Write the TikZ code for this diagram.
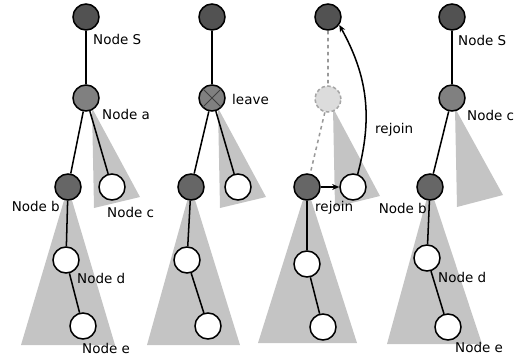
\documentclass[tikz,border=0pt]{standalone}
\usepackage{fontspec}
\setmainfont{DejaVu Sans}
\usetikzlibrary{arrows.meta,backgrounds}
\definecolor{rootgray}{HTML}{525252}
\definecolor{bgray}{HTML}{666666}
\definecolor{midgray}{HTML}{808080}
\definecolor{treegray}{HTML}{C4C4C4}
\definecolor{ghost}{HTML}{DCDCDC}

\tikzset{
 vert/.style={circle,draw=black,line width=1.3pt,minimum size=0.78cm,inner sep=0pt},
 topnode/.style={vert,fill=rootgray},
 midnode/.style={vert,fill=midgray},
 bnode/.style={vert,fill=bgray},
 leafnode/.style={vert,fill=white},
 gone/.style={vert,draw=gray!70,densely dashed,fill=ghost},
 subtree/.style={fill=treegray},
 link/.style={line width=1.3pt},
 tag/.style={font=\fontsize{11.5}{13}\selectfont,inner sep=0pt,anchor=west},
}

\begin{document}
\begin{tikzpicture}[x=0.03cm,y=-0.03cm,>={Stealth[length=6pt,width=5pt]}]
\useasboundingbox (0,0) rectangle (520,358);
% first: the tree as it is
\begin{scope}[shift={(86,0)}]
 \node[topnode] (S1) at (0,17) {};
 \node[midnode] (a1) at (0,98) {};
 \node[bnode] (b1) at (-18,187) {};
 \node[leafnode] (c1) at (26,187) {};
 \node[leafnode] (d1) at (-20,260) {};
 \node[leafnode] (e1) at (-3,326) {};
 \begin{scope}[on background layer]
  \fill[subtree] (b1.center) -- (-65,345) -- (29,345) -- cycle;
  \fill[subtree] (6,108) -- (8,208) -- (54,197) -- cycle;
 \end{scope}
 \draw[link] (S1) -- (a1) (a1) -- (b1) (a1) -- (c1) (b1) -- (d1) (d1) -- (e1);
 \node[tag] (lS1) at (7,39) {Node S};
 \node[tag] (la1) at (16,114) {Node a};
 \node[tag] (lc1) at (21,212) {Node c};
 \node[tag,anchor=east] (lb1) at (-26,206) {Node b};
 \node[tag] (ld1) at (-9,278) {Node d};
 \node[tag] (le1) at (-4,348) {Node e};
\end{scope}
% second: node a leaves
\begin{scope}[shift={(212,0)}]
 \node[topnode] (S2) at (0,17) {};
 \node[midnode] (a2) at (0,98) {};
 \node[bnode] (b2) at (-21,187) {};
 \node[leafnode] (c2) at (26,187) {};
 \node[leafnode] (d2) at (-25,260) {};
 \node[leafnode] (e2) at (-4,326) {};
 \begin{scope}[on background layer]
  \fill[subtree] (b2.center) -- (-65,345) -- (28,345) -- cycle;
  \fill[subtree] (6,108) -- (8,208) -- (54,197) -- cycle;
 \end{scope}
 \draw[link] (S2) -- (a2) (a2) -- (b2) (a2) -- (c2) (b2) -- (d2) (d2) -- (e2);
 \draw[line width=0.9pt,black!75] (a2.45) -- (a2.225) (a2.135) -- (a2.-45);
 \node[tag] (lv2) at (20,99) {leave};
\end{scope}
% third: children rejoin
\begin{scope}[shift={(328,0)}]
 \node[topnode] (S3) at (0,17) {};
 \node[gone] (a3) at (0,99) {};
 \node[bnode] (b3) at (-21,187) {};
 \node[leafnode] (c3) at (25,187) {};
 \node[leafnode] (d3) at (-21,264) {};
 \node[leafnode] (e3) at (-5,327) {};
 \begin{scope}[on background layer]
  \fill[subtree] (b3.center) -- (-70,343) -- (29,343) -- cycle;
  \fill[subtree] (5,108) -- (7,207) -- (52,196) -- cycle;
 \end{scope}
 \draw[link,gray!80,dashed] (S3) -- (a3) (a3) -- (b3);
 \draw[link] (b3) -- (d3) (d3) -- (e3);
 \draw[link,->] (b3) -- (c3);
 \draw[link,->] (c3.70) to[bend right=22] (S3.-35);
 \node[tag] (lr3) at (-13,208) {rejoin};
 \node[tag] (lq3) at (47,130) {rejoin};
\end{scope}
% fourth: node c takes the place of a
\begin{scope}[shift={(452,0)}]
 \node[topnode] (S4) at (0,17) {};
 \node[midnode] (c4) at (0,98) {};
 \node[bnode] (b4) at (-22,187) {};
 \node[leafnode] (d4) at (-25,258) {};
 \node[leafnode] (e4) at (-4,327) {};
 \begin{scope}[on background layer]
  \fill[subtree] (b4.center) -- (-65,344) -- (30,344) -- cycle;
  \fill[subtree] (3,108) -- (5,207) -- (51,195) -- cycle;
 \end{scope}
 \draw[link] (S4) -- (c4) (c4) -- (b4) (b4) -- (d4) (d4) -- (e4);
 \node[tag] (lS4) at (6,40) {Node S};
 \node[tag] (lc4) at (15,115) {Node c};
 \node[tag,anchor=east] (lb4) at (-25,208) {Node b};
 \node[tag] (ld4) at (-14,277) {Node d};
 \node[tag] (le4) at (3,347) {Node e};
\end{scope}
\end{tikzpicture}
\end{document}
